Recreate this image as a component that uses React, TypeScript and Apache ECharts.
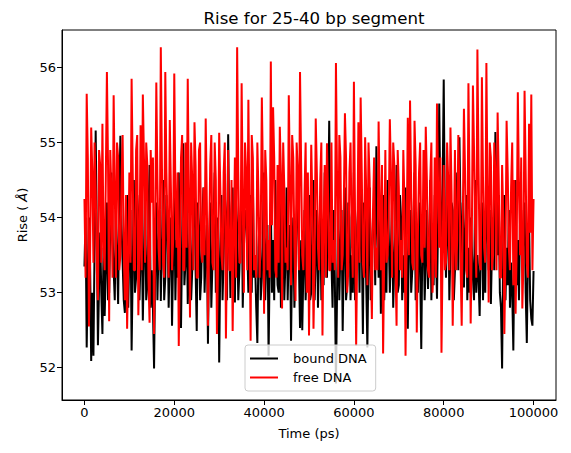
import React, { useEffect, useRef } from "react";
import * as echarts from "echarts";

const TITLE = "Rise for 25-40 bp segment";
const X_NAME = "Time (ps)";
const SERIES_NAMES = ["bound DNA", "free DNA"];
const TIME_STEP = 250; // ps between samples
const X_TICKS = [0, 20000, 40000, 60000, 80000, 100000];
const Y_TICKS = [52, 53, 54, 55, 56];

const boundDNA = [
  53.35, 54.0, 52.27, 53.3, 54.0, 53.4, 52.09, 53.0, 52.16, 53.6, 55.16, 53.8, 52.3, 53.1, 53.8, 53.0, 52.45, 53.6, 52.69, 53.3,
  54.2, 52.9, 53.0, 53.9, 54.6, 53.8, 53.3, 52.9, 54.1, 53.5, 52.85, 54.2, 55.09, 53.9, 53.4, 52.9, 52.73, 53.9, 54.3, 52.8,
  53.6, 54.1, 52.23, 53.3, 54.5, 53.0, 53.2, 54.3, 54.0, 52.9, 53.5, 53.9, 52.63, 53.5, 54.4, 52.9, 53.1, 54.0, 54.7, 52.8,
  53.3, 52.8, 51.99, 53.4, 54.2, 52.9, 53.6, 54.1, 52.89, 53.6, 54.5, 52.9, 53.2, 54.3, 54.0, 52.8, 53.5, 54.0, 52.56, 53.5,
  54.3, 52.9, 53.7, 53.2, 54.6, 53.5, 52.53, 53.7, 54.99, 53.1, 53.4, 54.2, 52.85, 53.4, 54.1, 52.9, 53.3, 54.1, 54.5, 53.3,
  52.49, 54.2, 53.9, 52.9, 53.2, 54.0, 54.4, 53.0, 53.6, 53.9, 52.32, 53.6, 54.2, 52.8, 53.4, 54.0, 54.6, 53.0, 53.1, 54.0,
  52.07, 53.4, 54.3, 52.9, 53.5, 54.3, 54.0, 52.9, 55.11, 53.8, 52.93, 54.1, 54.4, 53.3, 52.87, 54.2, 53.9, 52.9, 53.3, 53.9,
  54.5, 52.8, 53.6, 54.0, 54.1, 53.6, 53.0, 54.2, 54.3, 53.0, 54.47, 53.2, 53.4, 52.8, 52.33, 53.6, 54.0, 52.9, 53.2, 53.9,
  54.6, 52.9, 53.5, 53.9, 52.16, 53.4, 54.2, 53.0, 53.7, 52.9, 54.5, 53.6, 53.1, 53.0, 54.3, 52.8, 53.4, 54.1, 52.9, 53.4,
  54.4, 52.9, 53.6, 53.9, 52.36, 53.5, 54.0, 52.8, 53.3, 54.0, 54.6, 53.4, 52.53, 53.7, 52.5, 53.3, 54.1, 52.9, 53.4, 53.1,
  54.3, 52.9, 53.0, 53.9, 54.5, 52.9, 53.5, 54.1, 52.8, 53.6, 54.2, 52.9, 53.7, 53.1, 54.6, 53.7, 53.2, 54.0, 55.29, 53.9,
  53.4, 52.8, 54.1, 53.2, 51.79, 53.0, 54.3, 52.9, 53.6, 54.1, 52.49, 53.5, 54.4, 52.9, 53.1, 54.2, 54.0, 52.9, 53.5, 53.0,
  54.6, 52.9, 53.3, 53.9, 54.2, 53.0, 54.89, 53.7, 52.45, 54.2, 53.9, 53.1, 52.27, 53.5, 54.4, 52.9, 53.5, 54.0, 54.1, 53.1,
  54.95, 53.9, 53.2, 54.1, 52.72, 53.6, 54.3, 52.9, 53.6, 53.0, 54.5, 53.8, 53.0, 53.6, 54.2, 52.8, 53.4, 53.9, 54.7, 53.0,
  53.1, 54.3, 54.0, 52.9, 53.5, 53.0, 54.4, 53.4, 52.52, 53.8, 54.1, 53.0, 53.3, 53.9, 54.6, 52.9, 53.6, 53.0, 54.2, 53.3,
  52.25, 53.7, 54.0, 52.9, 53.4, 54.1, 53.05, 53.6, 54.5, 52.9, 53.7, 53.1, 54.3, 53.6, 52.92, 54.0, 55.52, 54.2, 53.5, 54.4,
  55.84, 54.0, 53.2, 53.8, 54.4, 52.9, 53.6, 54.2, 54.1, 52.9, 53.3, 53.9, 54.6, 53.3, 55.07, 54.0, 53.4, 54.2, 53.07, 53.8,
  54.3, 52.9, 53.6, 53.0, 54.0, 53.6, 53.2, 52.9, 54.5, 53.0, 53.5, 53.2, 52.69, 53.7, 54.2, 52.9, 53.7, 53.0, 54.4, 53.9,
  53.3, 54.1, 52.85, 53.6, 54.0, 53.3, 55.14, 54.2, 53.5, 54.3, 53.0, 52.8, 51.99, 53.6, 54.3, 52.9, 53.6, 53.1, 54.1, 52.8,
  53.4, 53.0, 52.23, 53.6, 54.5, 53.1, 53.7, 52.9, 54.0, 54.1, 53.3, 53.8, 54.2, 53.0, 52.33, 53.5, 54.0, 52.9, 52.65, 52.56,
  53.29,
];

const freeDNA = [
  54.25, 53.2, 55.65, 54.8, 52.55, 53.4, 55.2, 54.6, 53.4, 55.0, 54.4, 53.3, 52.9, 54.9, 54.7, 53.4, 55.25, 53.6, 53.3, 54.5,
  55.94, 54.7, 52.62, 54.9, 54.3, 53.2, 55.63, 54.4, 53.2, 55.0, 54.8, 53.3, 53.5, 54.5, 55.1, 53.6, 52.9, 54.3, 52.52, 53.4,
  54.6, 53.4, 55.85, 54.6, 53.3, 53.3, 54.9, 55.1, 52.7, 53.5, 55.23, 53.3, 55.64, 54.8, 53.4, 55.0, 54.7, 53.2, 52.6, 54.9,
  54.2, 54.8, 52.45, 53.7, 55.8, 54.5, 53.6, 53.3, 56.27, 54.7, 53.4, 53.2, 55.94, 54.6, 53.8, 53.2, 55.3, 54.4, 53.3, 53.7,
  55.92, 54.3, 53.6, 54.6, 52.29, 53.5, 54.8, 55.1, 53.3, 53.3, 55.0, 53.6, 55.85, 54.3, 52.67, 55.0, 54.5, 53.3, 55.27, 54.7,
  53.2, 53.2, 54.9, 55.0, 53.6, 53.4, 54.4, 53.5, 55.32, 54.2, 52.56, 53.6, 54.7, 55.1, 53.4, 53.3, 55.0, 54.5, 52.45, 53.4,
  55.13, 54.4, 53.5, 53.3, 54.6, 55.0, 52.39, 53.6, 54.9, 53.3, 53.3, 54.5, 52.49, 53.7, 54.8, 53.2, 56.27, 54.6, 53.4, 53.4,
  55.79, 54.2, 53.0, 55.0, 54.6, 53.3, 55.57, 54.0, 52.36, 55.1, 54.8, 53.3, 53.5, 53.2, 55.0, 54.3, 53.2, 53.8, 55.6, 54.5,
  52.72, 54.9, 54.5, 53.3, 53.7, 53.2, 56.08, 53.9, 55.47, 54.8, 53.3, 53.2, 54.7, 53.4, 55.21, 54.6, 52.79, 55.0, 54.4, 53.4,
  53.6, 53.3, 55.63, 54.5, 53.1, 55.1, 54.8, 53.6, 52.89, 55.0, 54.6, 53.3, 55.94, 54.7, 53.5, 53.3, 54.3, 55.0, 53.0, 54.6,
  52.43, 53.6, 54.97, 54.2, 52.52, 53.4, 55.32, 54.6, 53.6, 53.3, 54.5, 55.0, 52.43, 53.8, 54.7, 53.2, 54.99, 54.3, 53.3, 53.3,
  55.0, 53.4, 53.7, 53.3, 56.06, 54.5, 53.2, 55.1, 54.8, 53.3, 53.5, 54.2, 55.39, 54.8, 53.0, 53.3, 54.6, 55.0, 53.8, 53.2,
  55.81, 54.0, 52.29, 53.6, 55.27, 53.4, 55.6, 54.6, 53.4, 53.2, 55.07, 54.3, 53.1, 55.0, 54.5, 53.5, 52.65, 54.1, 54.8, 53.3,
  53.6, 53.3, 55.28, 54.2, 53.3, 54.7, 52.19, 53.5, 54.9, 53.4, 53.5, 54.0, 55.31, 54.6, 53.2, 55.0, 54.7, 53.4, 52.56, 54.9,
  54.4, 53.3, 53.7, 53.2, 54.9, 54.2, 52.16, 53.7, 55.33, 53.5, 55.56, 54.4, 53.4, 53.3, 55.29, 54.7, 52.47, 53.8, 54.6, 55.0,
  53.5, 53.4, 54.9, 53.6, 55.21, 54.5, 53.3, 53.2, 54.5, 55.0, 53.0, 53.4, 54.8, 53.2, 55.52, 54.4, 53.6, 54.8, 52.2, 53.5,
  54.7, 53.3, 53.4, 55.0, 54.5, 53.3, 55.2, 54.3, 52.56, 53.6, 54.9, 53.3, 53.7, 55.1, 54.4, 53.4, 52.56, 54.0, 55.45, 54.6,
  53.3, 53.2, 55.79, 54.4, 52.59, 53.7, 55.76, 54.9, 53.8, 53.2, 56.24, 54.7, 53.4, 53.3, 55.87, 54.5, 53.6, 53.4, 56.06, 54.3,
  52.87, 55.0, 54.8, 53.3, 53.5, 55.0, 54.6, 53.3, 55.4, 54.5, 53.2, 53.2, 54.7, 54.0, 52.45, 53.5, 55.29, 54.6, 53.6, 53.3,
  54.4, 55.0, 53.1, 54.5, 52.72, 53.6, 55.67, 54.4, 53.5, 54.8, 52.79, 53.4, 55.69, 54.6, 53.4, 53.2, 55.25, 53.8, 55.64, 53.3,
  54.25,
];

const FONT = "DejaVu Sans";

export default function App() {
  const ref = useRef<HTMLDivElement>(null);
  useEffect(() => {
    document.body.style.margin = "0";
    const chart = echarts.init(ref.current!, null, { renderer: "svg" });
    const toPairs = (arr: number[]) => arr.map((v, i) => [i * TIME_STEP, v]);
    chart.setOption({
      animation: false,
      backgroundColor: "#fff",
      textStyle: { fontFamily: FONT, color: "#000" },
      title: {
        text: TITLE,
        left: 309,
        top: 5,
        textAlign: "center",
        textStyle: { fontFamily: FONT, fontSize: 16.6, fontWeight: "normal", color: "#000" },
      },
      grid: {
        left: 62,
        right: 15,
        top: 30,
        bottom: 53,
        show: true,
        borderColor: "#000",
        borderWidth: 1,
        backgroundColor: "transparent",
      },
      legend: {
        orient: "vertical",
        left: 245,
        top: 345,
        padding: [7, 9, 7, 5],
        itemGap: 6,
        itemWidth: 28,
        itemHeight: 2,
        icon: "rect",
        backgroundColor: "rgba(255,255,255,0.8)",
        borderColor: "#cccccc",
        borderWidth: 1,
        borderRadius: 3,
        textStyle: { fontFamily: FONT, fontSize: 13, color: "#000", padding: [0, 0, 0, 10] },
        data: SERIES_NAMES,
      },
      xAxis: {
        type: "value",
        min: -5000,
        max: 105000,
        name: X_NAME,
        nameLocation: "middle",
        nameGap: 27,
        nameTextStyle: { fontFamily: FONT, fontSize: 13, color: "#000" },
        splitLine: { show: false },
        axisLine: { show: true, onZero: false, lineStyle: { color: "#000", width: 1 } },
        axisTick: { show: true, length: 5, lineStyle: { color: "#000" }, customValues: X_TICKS },
        axisLabel: {
          fontFamily: FONT,
          fontSize: 13,
          color: "#000",
          margin: 6,
          customValues: X_TICKS,
          formatter: (v: number) => String(v),
        },
      },
      yAxis: {
        type: "value",
        min: 51.57,
        max: 56.5,
        name: "{a|Rise ( }{b|Å}{a|)}",
        nameLocation: "middle",
        nameGap: 32,
        nameRotate: 90,
        nameTextStyle: {
          rich: {
            a: { fontFamily: FONT, fontSize: 13, color: "#000" },
            b: { fontFamily: FONT, fontSize: 13, color: "#000", fontStyle: "italic" },
          },
        },
        splitLine: { show: false },
        axisLine: { show: true, onZero: false, lineStyle: { color: "#000", width: 1 } },
        axisTick: { show: true, length: 5, lineStyle: { color: "#000" }, customValues: Y_TICKS },
        axisLabel: {
          fontFamily: FONT,
          fontSize: 13,
          color: "#000",
          margin: 6,
          customValues: Y_TICKS,
          formatter: (v: number) => String(v),
        },
      },
      series: [
        {
          name: SERIES_NAMES[0],
          type: "line",
          data: toPairs(boundDNA),
          symbol: "none",
          lineStyle: { color: "#000000", width: 2 },
          itemStyle: { color: "#000000" },
          z: 2,
        },
        {
          name: SERIES_NAMES[1],
          type: "line",
          data: toPairs(freeDNA),
          symbol: "none",
          lineStyle: { color: "#ff0000", width: 2 },
          itemStyle: { color: "#ff0000" },
          z: 3,
        },
      ],
    });
    return () => chart.dispose();
  }, []);
  return <div ref={ref} style={{ width: 571, height: 453 }} />;
}
